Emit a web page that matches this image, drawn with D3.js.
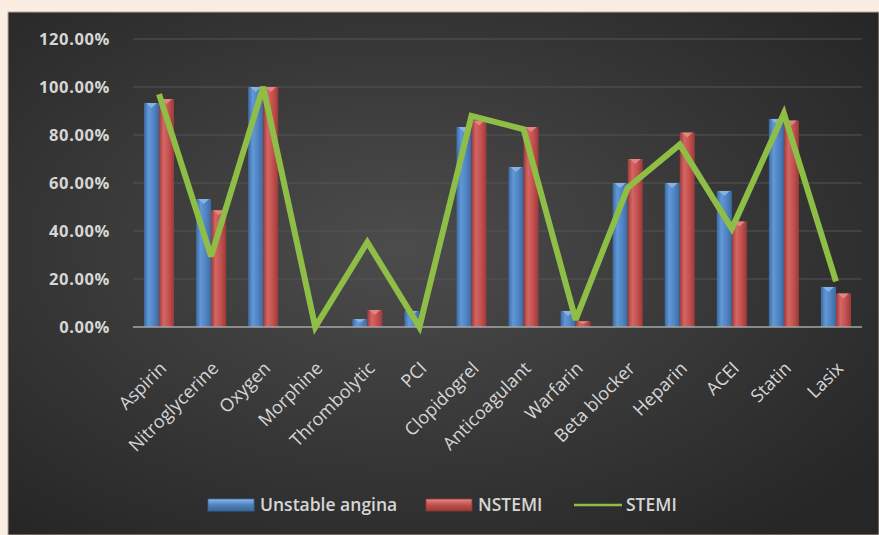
<!DOCTYPE html>
<html>
<head>
<meta charset="utf-8">
<script src="https://cdn.jsdelivr.net/npm/d3@7"></script>
<style>
  html, body { margin: 0; padding: 0; background: #fcede2; }
  svg { display: block; }
</style>
</head>
<body>
<svg id="chart" width="879" height="535"></svg>
<script>
// Treatments given, by presentation
const categories = ["Aspirin", "Nitroglycerine", "Oxygen", "Morphine", "Thrombolytic", "PCI",
  "Clopidogrel", "Anticoagulant", "Warfarin", "Beta blocker", "Heparin", "ACEI", "Statin", "Lasix"];
const unstableAngina = [0.933, 0.533, 1.0, 0.0, 0.033, 0.067, 0.833, 0.667, 0.067, 0.60, 0.60, 0.567, 0.867, 0.167];
const nstemi = [0.95, 0.486, 1.0, 0.0, 0.071, 0.0, 0.86, 0.833, 0.024, 0.70, 0.81, 0.44, 0.86, 0.14];
const stemi = [0.97, 0.294, 1.0, 0.0, 0.353, 0.0, 0.88, 0.824, 0.03, 0.58, 0.76, 0.41, 0.89, 0.19];
const yTicks = [0, 0.2, 0.4, 0.6, 0.8, 1.0, 1.2];
const seriesNames = ["Unstable angina", "NSTEMI", "STEMI"];

const svg = d3.select("#chart");
const defs = svg.append("defs");

// panel background: soft radial light in the centre
const bg = defs.append("radialGradient").attr("id", "bgGrad")
  .attr("cx", "45%").attr("cy", "45%").attr("r", "70%");
bg.append("stop").attr("offset", "0%").attr("stop-color", "#4c4c4c");
bg.append("stop").attr("offset", "100%").attr("stop-color", "#262626");

// cylinder-like shading for the bars
function barGradient(id, dark, mid, light) {
  const g = defs.append("linearGradient").attr("id", id).attr("x1", "0").attr("x2", "1").attr("y1", "0").attr("y2", "0");
  g.append("stop").attr("offset", "0%").attr("stop-color", dark);
  g.append("stop").attr("offset", "30%").attr("stop-color", light);
  g.append("stop").attr("offset", "65%").attr("stop-color", mid);
  g.append("stop").attr("offset", "100%").attr("stop-color", dark);
}
barGradient("blueGrad", "#3b6aa3", "#5084c2", "#6298d6");
barGradient("redGrad", "#9a3a3a", "#c4504e", "#d36763");

svg.append("rect").attr("x", 8).attr("y", 12).attr("width", 871).attr("height", 523)
  .attr("fill", "url(#bgGrad)").attr("stroke", "#bba89a").attr("stroke-width", 1);

const plot = { left: 133, right: 862, top: 39, bottom: 327 };

const x0 = d3.scaleBand().domain(categories).range([plot.left, plot.right]).padding(0);
const pairWidth = 30;
const x1 = d3.scaleBand().domain(["ua", "nstemi"]).range([0, pairWidth]);
const y = d3.scaleLinear().domain([0, 1.2]).range([plot.bottom, plot.top]);

// gridlines
svg.append("g").selectAll("line").data(yTicks.filter(t => t > 0)).join("line")
  .attr("x1", plot.left).attr("x2", plot.right)
  .attr("y1", d => y(d)).attr("y2", d => y(d))
  .attr("stroke", "#555555").attr("stroke-width", 1);

// y axis labels
const yAxis = d3.axisLeft(y).tickValues(yTicks).tickFormat(d3.format(".2%")).tickSize(0).tickPadding(0);
const yg = svg.append("g").attr("transform", "translate(110,0)").call(yAxis);
yg.select(".domain").remove();
yg.selectAll("text").attr("fill", "#d6d6d6").attr("font-family", "'Open Sans', sans-serif")
  .attr("font-weight", "bold").attr("font-size", "16.5px").attr("letter-spacing", "0.6px");

// bars
const bandOffset = (x0.bandwidth() - pairWidth) / 2;
const barData = [];
categories.forEach((c, i) => {
  barData.push({ c, key: "ua", v: unstableAngina[i], fill: "url(#blueGrad)", cap: "#8fb6e6" });
  barData.push({ c, key: "nstemi", v: nstemi[i], fill: "url(#redGrad)", cap: "#e58a87" });
});
const bars = svg.append("g").selectAll("g").data(barData).join("g")
  .attr("transform", d => `translate(${x0(d.c) + bandOffset + x1(d.key)},0)`);
bars.append("rect")
  .attr("x", 0).attr("width", x1.bandwidth())
  .attr("y", d => y(d.v)).attr("height", d => y(0) - y(d.v))
  .attr("fill", d => d.fill);
// small bevelled highlight on each bar top
bars.filter(d => y(0) - y(d.v) > 3).append("path")
  .attr("d", d => {
    const w = x1.bandwidth(), t = y(d.v);
    const h = Math.min(5, (y(0) - t) / 2);
    return `M${2},${t} L${w - 2},${t} L${w / 2},${t + h} Z`;
  })
  .attr("fill", d => d.cap).attr("opacity", 0.9);

// baseline
svg.append("line").attr("x1", plot.left).attr("x2", plot.right)
  .attr("y1", y(0)).attr("y2", y(0)).attr("stroke", "#a6a6a6").attr("stroke-width", 1.5);

// STEMI line
const line = d3.line()
  .x((d, i) => x0(categories[i]) + x0.bandwidth() / 2)
  .y(d => y(d));
svg.append("path").datum(stemi).attr("d", line)
  .attr("fill", "none").attr("stroke", "#8fbe47").attr("stroke-width", 6)
  .attr("stroke-linejoin", "miter").attr("stroke-miterlimit", 3);

// category labels
const xAxis = d3.axisBottom(x0).tickSize(0).tickPadding(0);
const xg = svg.append("g").attr("transform", `translate(0,${plot.bottom})`).call(xAxis);
xg.select(".domain").remove();
xg.selectAll("text")
  .attr("fill", "#d6d6d6").attr("font-family", "'Open Sans', sans-serif").attr("font-size", "18px")
  .attr("text-anchor", "end").attr("dy", "0.35em")
  .attr("transform", "translate(4,38) rotate(-45)");

// legend
const legend = svg.append("g").attr("font-family", "'Open Sans', sans-serif")
  .attr("font-size", "17.5px").attr("font-weight", 600).attr("fill", "#d6d6d6");
const legendItems = [
  { name: seriesNames[0], x: 208, type: "bar", fill: "url(#legBlue)", stroke: "#3a679e" },
  { name: seriesNames[1], x: 426, type: "bar", fill: "url(#legRed)", stroke: "#8e3533" },
  { name: seriesNames[2], x: 574, type: "line" }
];
function legendGradient(id, top, mid, bottom) {
  const g = defs.append("linearGradient").attr("id", id).attr("x1", "0").attr("x2", "0").attr("y1", "0").attr("y2", "1");
  g.append("stop").attr("offset", "0%").attr("stop-color", top);
  g.append("stop").attr("offset", "50%").attr("stop-color", mid);
  g.append("stop").attr("offset", "100%").attr("stop-color", bottom);
}
legendGradient("legBlue", "#8fbbee", "#4f81bd", "#3a679e");
legendGradient("legRed", "#e48a87", "#c0504d", "#98393a");
legendItems.forEach(it => {
  if (it.type === "bar") {
    legend.append("rect").attr("x", it.x).attr("y", 499).attr("width", 46).attr("height", 12)
      .attr("fill", it.fill).attr("stroke", it.stroke).attr("stroke-width", 0.8);
  } else {
    legend.append("line").attr("x1", it.x).attr("x2", it.x + 48).attr("y1", 505).attr("y2", 505)
      .attr("stroke", "#8fbe47").attr("stroke-width", 2.5);
  }
  legend.append("text").attr("x", it.x + 52).attr("y", 505).attr("dy", "0.35em").text(it.name);
});
</script>
</body>
</html>
